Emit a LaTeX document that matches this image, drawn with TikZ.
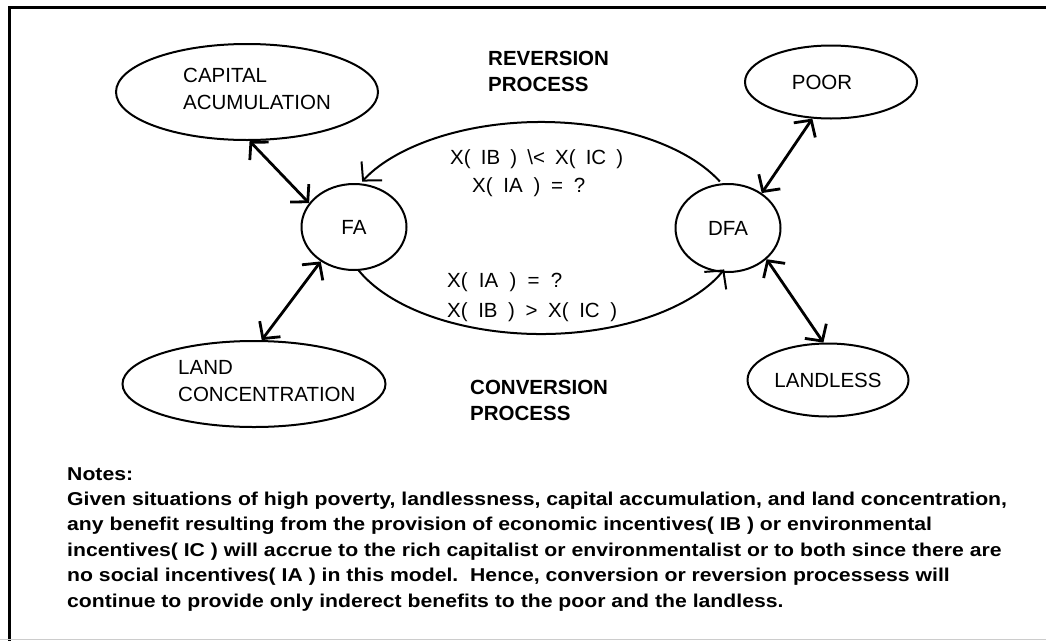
\documentclass[tikz,border=0pt]{standalone}
\usepackage{fontspec}
\setmainfont{Liberation Sans}
\newfontfamily\notesfont[FakeStretch=1.14]{Liberation Sans}
\usetikzlibrary{shapes.geometric,arrows.meta,calc}
\begin{document}
\begin{tikzpicture}[x=1pt,y=-1pt,
  shp/.style={draw, line width=2pt, ellipse, inner sep=0pt, font=\fontsize{20.5}{27}\selectfont},
  lbl/.style={font=\fontsize{20.5}{27}\selectfont, inner sep=0pt, align=left},
  proc/.style={font=\bfseries\fontsize{20.5}{26.5}\selectfont, inner sep=0pt, align=left},
  notes/.style={font=\notesfont\bfseries\fontsize{18.6}{25.4}\selectfont, inner sep=0pt, align=left},
  dbl/.style={line width=2.8pt, {Straight Barb[length=12pt,width=26pt]}-{Straight Barb[length=12pt,width=26pt]}},
  flow/.style={line width=2pt, -{Straight Barb[length=13pt,width=28pt]}}]
\useasboundingbox (0,0) rectangle (1046,640);
% frame
\draw[line width=3pt] (9,641) -- (9,7) -- (1047,7);
\draw[gray!40, line width=1pt] (0,639.5) -- (1046,639.5);
% nodes
\node[shp, minimum width=262pt, minimum height=96pt] (cap) at (247,92) {};
\node[lbl, anchor=north west] (capt) at (183,67.5) {CAPITAL\\ACUMULATION};
\node[shp, minimum width=263pt, minimum height=86pt] (land) at (254,384) {};
\node[lbl, anchor=north west] (landt) at (178,360.5) {LAND\\CONCENTRATION};
\node[shp, minimum width=105pt, minimum height=86pt] (fa) at (354,227) {FA};
\node[shp, minimum width=105pt, minimum height=88pt] (dfa) at (728,228) {DFA};
\node[shp, minimum width=172pt, minimum height=73pt] (poor) at (831,82) {};
\node[lbl, anchor=center] (poort) at (822,82) {POOR};
\node[shp, minimum width=161pt, minimum height=73pt] (landless) at (828,380) {LANDLESS};
% process labels
\node[proc, anchor=north west] (rev) at (488,50.7) {REVERSION\\PROCESS};
\node[proc, anchor=north west] (conv) at (470,379.7) {CONVERSION\\PROCESS};
% conditions
\node[lbl, anchor=base west] (r1) at (450,164.5) {\makebox[173pt][s]{X( IB ) \textbackslash\textless\ X( IC )}};
\node[lbl, anchor=base west] (r2) at (472,192.5) {\makebox[113pt][s]{X( IA ) = ?}};
\node[lbl, anchor=base west] (c1) at (447,287.5) {\makebox[115pt][s]{X( IA ) = ?}};
\node[lbl, anchor=base west] (c2) at (447,317.5) {\makebox[170pt][s]{X( IB ) \textgreater\ X( IC )}};
% connectors
\draw[dbl] (cap.-87) -- (fa.152);
\draw[dbl] (poor.-117) -- (dfa.46);
\draw[dbl] (fa.-134) -- (land.80);
\draw[dbl] (dfa.-39) -- (landless.97);
\coordinate (loop) at (541,228);
\draw[flow] ($(loop)+(26:199pt and 106pt)$) arc[start angle=26, end angle=154, x radius=199pt, y radius=106pt];
\draw[flow] ($(loop)+(203:199pt and 106pt)$) arc[start angle=203, end angle=337, x radius=199pt, y radius=106pt];
% notes
\node[notes, anchor=north west] (nt) at (67,467) {Notes:\\
Given situations of high poverty, landlessness, capital accumulation, and land concentration,\\
any benefit resulting from the provision of economic incentives( IB ) or environmental\\
incentives( IC ) will accrue to the rich capitalist or environmentalist or to both since there are\\
no social incentives( IA ) in this model.\ \ Hence, conversion or reversion processess will\\
continue to provide only inderect benefits to the poor and the landless.};
\end{tikzpicture}
\end{document}
